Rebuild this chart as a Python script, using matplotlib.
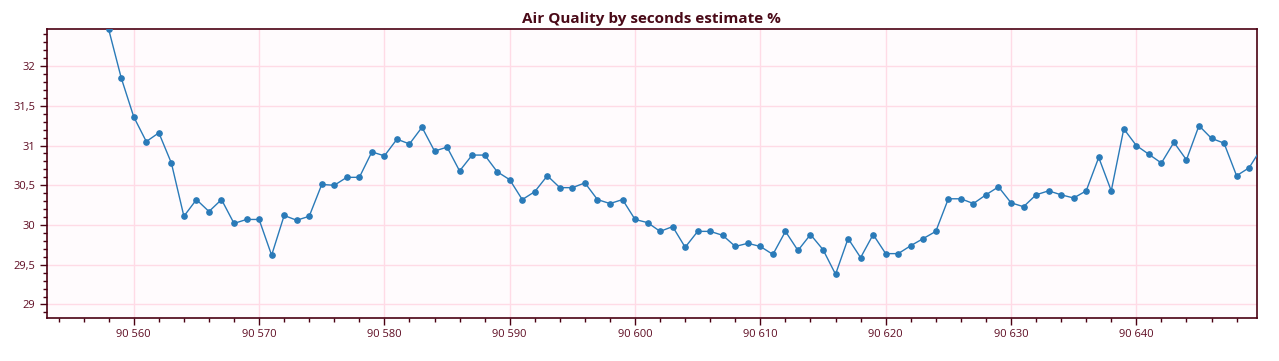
import matplotlib.pyplot as plt
from matplotlib.ticker import MultipleLocator, FuncFormatter

# seconds and air quality estimate (%)
seconds = list(range(90558, 90651))
quality = [
    32.46, 31.85, 31.36, 31.05, 31.16, 30.78, 30.11, 30.32, 30.17, 30.32,
    30.02, 30.07, 30.07, 29.62, 30.12, 30.06, 30.11, 30.51, 30.50, 30.60,
    30.60, 30.92, 30.87, 31.08, 31.02, 31.23, 30.93, 30.98, 30.68, 30.88,
    30.88, 30.67, 30.57, 30.32, 30.42, 30.62, 30.47, 30.47, 30.53, 30.32,
    30.27, 30.32, 30.07, 30.03, 29.92, 29.98, 29.72, 29.92, 29.92, 29.87,
    29.73, 29.77, 29.73, 29.63, 29.92, 29.68, 29.88, 29.69, 29.38, 29.83,
    29.59, 29.88, 29.64, 29.64, 29.74, 29.83, 29.92, 30.33, 30.33, 30.27,
    30.38, 30.48, 30.28, 30.23, 30.38, 30.43, 30.38, 30.34, 30.43, 30.85,
    30.43, 31.21, 31.00, 30.89, 30.78, 31.04, 30.82, 31.25, 31.09, 31.03,
    30.62, 30.72, 30.97,
]

title = "Air Quality by seconds estimate %"

spine_col = "#4a0012"
text_col = "#5e0c22"
grid_col = "#ffdbe6"

plt.rcParams['font.family'] = ['Open Sans', 'DejaVu Sans']

fig = plt.figure(figsize=(12.79, 3.61), dpi=100)
ax = fig.add_axes([0.0364, 0.1191, 0.9464, 0.7992])
ax.set_facecolor("#fffbfd")

ax.plot(seconds, quality, color="#2a7ab8", linewidth=1.0,
        marker="o", markersize=3.8, zorder=3)

ax.set_xlim(90553.04, 90649.63)
ax.set_ylim(28.83, 32.46)

ax.xaxis.set_major_locator(MultipleLocator(10))
ax.xaxis.set_minor_locator(MultipleLocator(2))
ax.yaxis.set_major_locator(MultipleLocator(0.5))
ax.yaxis.set_minor_locator(MultipleLocator(0.1))

ax.xaxis.set_major_formatter(FuncFormatter(lambda v, p: f"{int(round(v)):,}".replace(",", " ")))
ax.yaxis.set_major_formatter(FuncFormatter(lambda v, p: f"{v:g}".replace(".", ",")))

ax.grid(True, which="major", color=grid_col, linewidth=1.0, zorder=0)
ax.set_axisbelow(True)

for s in ax.spines.values():
    s.set_color(spine_col)
    s.set_linewidth(1.2)

ax.tick_params(which="major", length=5, width=1, color=spine_col,
               labelcolor=text_col, labelsize=8, pad=3)
ax.tick_params(which="minor", length=3, width=1, color=spine_col)

ax.set_title(title, color="#4a0a18", fontsize=11, fontweight="bold", pad=5)

fig.savefig("out.png", dpi=100)
